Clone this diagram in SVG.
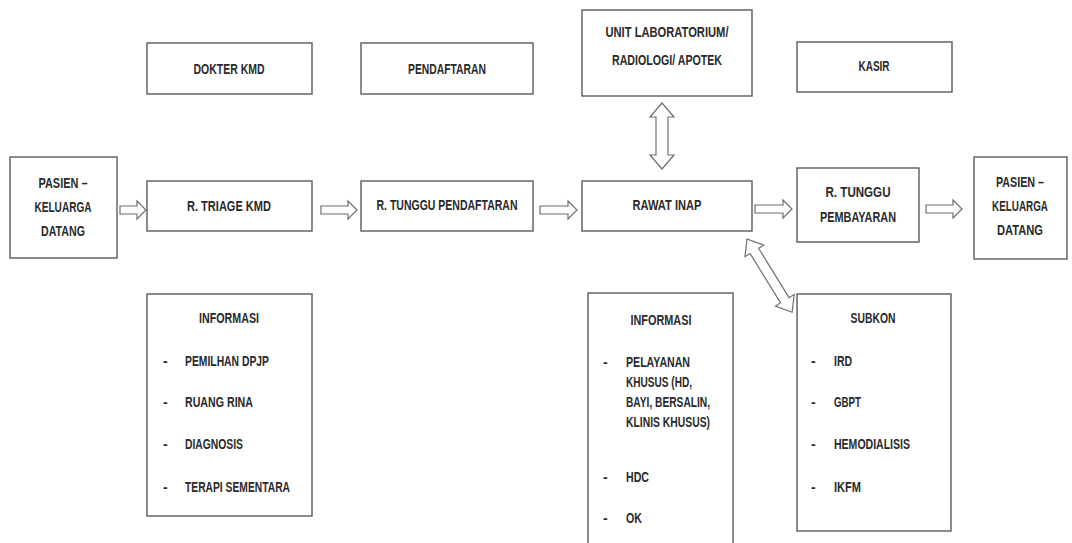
<svg xmlns="http://www.w3.org/2000/svg" width="1072" height="543" viewBox="0 0 1072 543">
<style>
.box{fill:#fff;stroke:#5a5a5a;stroke-width:1.4}
.arr{fill:#fff;stroke:#6e6e6e;stroke-width:1.2;stroke-linejoin:miter}
text{font-family:"Liberation Sans",Arial,sans-serif;font-size:14px;font-weight:bold;fill:#2a2a2a;dominant-baseline:central}
.c{text-anchor:middle}
</style>
<rect width="1072" height="543" fill="#fff"/>
<g id="connectors">
<polygon class="arr" points="120,206 137,206 137,201 146,210 137,219 137,214 120,214"/>
<polygon class="arr" points="321,206 348,206 348,201 357,210 348,219 348,214 321,214"/>
<polygon class="arr" points="540,206 568,206 568,201 577,210 568,219 568,214 540,214"/>
<polygon class="arr" points="755,205 783,205 783,200 792,209 783,218 783,213 755,213"/>
<polygon class="arr" points="926,205 953,205 953,200 962,209 953,218 953,213 926,213"/>
<polygon class="arr" points="662,103 674,117 668,117 668,155 674,155 662,169 650,155 656,155 656,117 650,117"/>
<polygon class="arr" transform="translate(747,239) rotate(58.35)" points="0,0 14,-11 14,-5 72,-5 72,-11 86,0 72,11 72,5 14,5 14,11"/>
</g>
<g id="pasien-datang">
<rect class="box" x="10" y="157" width="107" height="101"/>
<text class="c" x="63" y="183" textLength="49" lengthAdjust="spacingAndGlyphs">PASIEN –</text>
<text class="c" x="63" y="207" textLength="57" lengthAdjust="spacingAndGlyphs">KELUARGA</text>
<text class="c" x="63" y="231" textLength="44" lengthAdjust="spacingAndGlyphs">DATANG</text>
</g>
<g id="triage">
<rect class="box" x="147" y="181" width="165" height="50"/>
<text class="c" x="229" y="206" textLength="84" lengthAdjust="spacingAndGlyphs">R. TRIAGE KMD</text>
</g>
<g id="tunggu-pendaftaran">
<rect class="box" x="361" y="181" width="172" height="50"/>
<text class="c" x="447" y="205" textLength="141" lengthAdjust="spacingAndGlyphs">R. TUNGGU PENDAFTARAN</text>
</g>
<g id="rawat-inap">
<rect class="box" x="582" y="181" width="170" height="50"/>
<text class="c" x="667" y="205" textLength="69" lengthAdjust="spacingAndGlyphs">RAWAT INAP</text>
</g>
<g id="tunggu-pembayaran">
<rect class="box" x="797" y="168" width="122" height="74"/>
<text class="c" x="858" y="192" textLength="65" lengthAdjust="spacingAndGlyphs">R. TUNGGU</text>
<text class="c" x="858" y="217" textLength="76" lengthAdjust="spacingAndGlyphs">PEMBAYARAN</text>
</g>
<g id="pasien-pulang">
<rect class="box" x="974" y="157" width="93" height="102"/>
<text class="c" x="1020" y="182" textLength="48" lengthAdjust="spacingAndGlyphs">PASIEN –</text>
<text class="c" x="1020" y="206" textLength="56" lengthAdjust="spacingAndGlyphs">KELUARGA</text>
<text class="c" x="1020" y="230" textLength="46" lengthAdjust="spacingAndGlyphs">DATANG</text>
</g>
<g id="dokter-kmd">
<rect class="box" x="147" y="43" width="165" height="51"/>
<text class="c" x="229" y="69" textLength="71" lengthAdjust="spacingAndGlyphs">DOKTER KMD</text>
</g>
<g id="pendaftaran">
<rect class="box" x="361" y="43" width="172" height="51"/>
<text class="c" x="447" y="69" textLength="78" lengthAdjust="spacingAndGlyphs">PENDAFTARAN</text>
</g>
<g id="unit-lab">
<rect class="box" x="582" y="10" width="170" height="86"/>
<text class="c" x="667" y="32" textLength="123" lengthAdjust="spacingAndGlyphs">UNIT LABORATORIUM/</text>
<text class="c" x="667" y="60" textLength="110" lengthAdjust="spacingAndGlyphs">RADIOLOGI/ APOTEK</text>
</g>
<g id="kasir">
<rect class="box" x="797" y="42" width="155" height="50"/>
<text class="c" x="874" y="66" textLength="31" lengthAdjust="spacingAndGlyphs">KASIR</text>
</g>
<g id="informasi-1">
<rect class="box" x="147" y="294" width="165" height="222"/>
<text class="c" x="229" y="318" textLength="60" lengthAdjust="spacingAndGlyphs">INFORMASI</text>
<text x="163" y="361">-</text><text x="185" y="361" textLength="84" lengthAdjust="spacingAndGlyphs">PEMILHAN DPJP</text>
<text x="163" y="402">-</text><text x="185" y="402" textLength="68" lengthAdjust="spacingAndGlyphs">RUANG RINA</text>
<text x="163" y="444">-</text><text x="185" y="444" textLength="58" lengthAdjust="spacingAndGlyphs">DIAGNOSIS</text>
<text x="163" y="487">-</text><text x="185" y="487" textLength="105" lengthAdjust="spacingAndGlyphs">TERAPI SEMENTARA</text>
</g>
<g id="informasi-2">
<rect class="box" x="588" y="293" width="145" height="260"/>
<text class="c" x="661" y="320" textLength="61" lengthAdjust="spacingAndGlyphs">INFORMASI</text>
<text x="603" y="362">-</text><text x="626" y="362" textLength="64" lengthAdjust="spacingAndGlyphs">PELAYANAN</text>
<text x="626" y="382" textLength="66" lengthAdjust="spacingAndGlyphs">KHUSUS (HD,</text>
<text x="626" y="402" textLength="84" lengthAdjust="spacingAndGlyphs">BAYI, BERSALIN,</text>
<text x="626" y="422" textLength="84" lengthAdjust="spacingAndGlyphs">KLINIS KHUSUS)</text>
<text x="603" y="477">-</text><text x="626" y="477" textLength="23" lengthAdjust="spacingAndGlyphs">HDC</text>
<text x="603" y="518">-</text><text x="626" y="518" textLength="16" lengthAdjust="spacingAndGlyphs">OK</text>
</g>
<g id="subkon">
<rect class="box" x="797" y="294" width="154" height="237"/>
<text class="c" x="873" y="318" textLength="45" lengthAdjust="spacingAndGlyphs">SUBKON</text>
<text x="811" y="361">-</text><text x="834" y="361" textLength="18" lengthAdjust="spacingAndGlyphs">IRD</text>
<text x="811" y="402">-</text><text x="834" y="402" textLength="27" lengthAdjust="spacingAndGlyphs">GBPT</text>
<text x="811" y="444">-</text><text x="834" y="444" textLength="76" lengthAdjust="spacingAndGlyphs">HEMODIALISIS</text>
<text x="811" y="487">-</text><text x="834" y="487" textLength="27" lengthAdjust="spacingAndGlyphs">IKFM</text>
</g>
</svg>
